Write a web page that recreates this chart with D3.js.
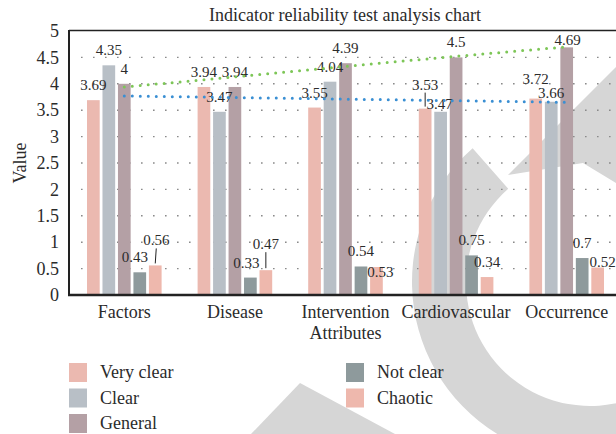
<!DOCTYPE html>
<html>
<head>
<meta charset="utf-8">
<script src="https://cdn.jsdelivr.net/npm/d3@7"></script>
<style>
  body { margin: 0; background: #fff; }
  svg text { font-family: "Liberation Serif", "DejaVu Serif", serif; fill: #2b2b2b; }
</style>
</head>
<body>
<script>
'use strict';

// chart data
const categories = ["Factors", "Disease", "Intervention Attributes", "Cardiovascular", "Occurrence"];
const seriesNames = ["Very clear", "Clear", "General", "Not clear", "Chaotic"];
const veryClear = [3.69, 3.94, 3.55, 3.53, 3.72];
const clear = [4.35, 3.47, 4.04, 3.47, 3.66];
const general = [4, 3.94, 4.39, 4.5, 4.69];
const notClear = [0.43, 0.33, 0.54, 0.75, 0.7];
const chaotic = [0.56, 0.47, 0.53, 0.34, 0.52];
// dotted trend lines
const trendGeneral = [3.94, 4.13, 4.33, 4.52, 4.70];
const trendVeryClear = [3.77, 3.74, 3.71, 3.68, 3.65];
const yTicks = [0, 0.5, 1, 1.5, 2, 2.5, 3, 3.5, 4, 4.5, 5];

const seriesColors = ["#ebb9b0", "#b8bfc6", "#b4a0a5", "#8e9a9c", "#eeb8ad"];
const seriesValues = [veryClear, clear, general, notClear, chaotic];

// hand nudges for the value labels [dx, dy], per category then series
const labelNudge = [
  [[0, 0], [0, 0], [0, 0], [-5, 0], [1, -10]],
  [[0, 0], [0, 0], [0, 0], [-4, 0], [0, -11]],
  [[0, 0], [0, 0], [0, 0], [0, 0], [4, 20]],
  [[0, -9], [-1, 7], [0, 0], [0, 0], [0, 0]],
  [[0, -5], [0, 6], [1, 8], [0, 0], [5, 9]]
];

const width = 616, height = 434;
const margin = { left: 69, top: 31, bottom: 295, right: 622 };
const serif = '"Liberation Serif", "DejaVu Serif", serif';

const svg = d3.select('body')
  .append('svg')
  .attr('width', width)
  .attr('height', height);

// faint watermark in the background
const wm = svg.append('g').attr('fill', '#d6d6d6');
wm.append('path')
  .attr('transform', 'translate(590,282)')
  .attr('d', d3.arc()
    .innerRadius(124)
    .outerRadius(178)
    .startAngle(Math.PI * 0.5)
    .endAngle(Math.PI * 2 - 0.72)());
wm.append('polygon').attr('points', '508,175 616,67 616,183 583,163');
wm.append('polygon').attr('points', '300,383 251,434 395,434');

// scales
const x0 = d3.scaleBand()
  .domain(categories)
  .range([margin.left, margin.right]);

const x1 = d3.scaleBand()
  .domain(seriesNames)
  .range([18, x0.bandwidth() - 18])
  .paddingInner(0.18);

const y = d3.scaleLinear()
  .domain([0, 5])
  .range([margin.bottom, margin.top]);

// dotted grid lines
svg.append('g')
  .selectAll('line')
  .data(yTicks.filter(t => t > 0 && t < 5))
  .enter()
  .append('line')
    .attr('x1', margin.left + 12)
    .attr('x2', width)
    .attr('y1', d => y(d))
    .attr('y2', d => y(d))
    .attr('stroke', '#8a8a8a')
    .attr('stroke-width', 1.4)
    .attr('stroke-dasharray', '1.6,10.4');

// y tick labels
const yAxis = d3.axisLeft(y)
  .tickValues(yTicks)
  .tickFormat(d => String(d))
  .tickSize(0)
  .tickPadding(10);
const gy = svg.append('g')
  .attr('transform', `translate(${margin.left},0)`)
  .call(yAxis)
  .attr('font-family', serif)
  .attr('font-size', 18);
gy.select('.domain').remove();
gy.selectAll('text')
  .attr('font-family', serif)
  .attr('fill', '#2b2b2b');

// bars
const groups = svg.append('g')
  .selectAll('g')
  .data(categories)
  .enter()
  .append('g')
    .attr('transform', d => `translate(${x0(d)},0)`);

groups.selectAll('rect')
  .data((c, ci) => seriesNames.map((s, si) => ({ s: s, si: si, ci: ci, v: seriesValues[si][ci] })))
  .enter()
  .append('rect')
    .attr('x', d => x1(d.s))
    .attr('y', d => y(d.v))
    .attr('width', x1.bandwidth())
    .attr('height', d => y(0) - y(d.v))
    .attr('fill', d => seriesColors[d.si]);

// trend lines
const cx = d => x0(d) + x0.bandwidth() / 2;
const trendLine = d3.line()
  .x((v, i) => cx(categories[i]))
  .y(v => y(v))
  .curve(d3.curveNatural);

[[trendVeryClear, '#3a8fd3'], [trendGeneral, '#7dc657']].forEach(([vals, col]) => {
  svg.append('path')
    .attr('d', trendLine(vals))
    .attr('fill', 'none')
    .attr('stroke', col)
    .attr('stroke-width', 3)
    .attr('stroke-linecap', 'round')
    .attr('stroke-dasharray', '0,8');
});

// value labels with leader lines where they were pushed up
groups.each(function(c, ci) {
  const g = d3.select(this);
  seriesNames.forEach((s, si) => {
    const v = seriesValues[si][ci];
    const bx = x1(s) + x1.bandwidth() / 2;
    const top = y(v);
    const [dx, dy] = labelNudge[ci][si];
    const ly = top - 15 + dy;
    if (dy <= -8) {
      g.append('line')
        .attr('x1', bx).attr('x2', bx + dx)
        .attr('y1', top - 2).attr('y2', ly + 8)
        .attr('stroke', '#222')
        .attr('stroke-width', 1);
    }
    g.append('text')
      .attr('x', bx + dx)
      .attr('y', ly + 5)
      .attr('text-anchor', 'middle')
      .style('font-size', '15px')
      .text(v);
  });
});

// frame: top border, left and bottom axis lines
svg.append('line')
  .attr('x1', margin.left).attr('x2', width)
  .attr('y1', margin.top - 0.5).attr('y2', margin.top - 0.5)
  .attr('stroke', '#222').attr('stroke-width', 1.5);
svg.append('line')
  .attr('x1', margin.left).attr('x2', margin.left)
  .attr('y1', margin.top - 1).attr('y2', margin.bottom + 1)
  .attr('stroke', '#222').attr('stroke-width', 2);
svg.append('line')
  .attr('x1', margin.left - 1).attr('x2', width)
  .attr('y1', margin.bottom).attr('y2', margin.bottom)
  .attr('stroke', '#222').attr('stroke-width', 2.5);

// category labels, wrapped onto one word per line
svg.append('g')
  .selectAll('text')
  .data(categories)
  .enter()
  .append('text')
    .attr('text-anchor', 'middle')
    .style('font-size', '18px')
    .each(function(d) {
      const t = d3.select(this);
      d.split(' ').forEach((w, i) => {
        t.append('tspan')
          .attr('x', cx(d))
          .attr('y', margin.bottom + 23 + i * 21)
          .text(w);
      });
    });

// title and y label
svg.append('text')
  .attr('x', 345)
  .attr('y', 21)
  .attr('text-anchor', 'middle')
  .style('font-size', '18px')
  .text('Indicator reliability test analysis chart');

svg.append('text')
  .attr('transform', 'translate(26,163)rotate(-90)')
  .attr('text-anchor', 'middle')
  .style('font-size', '18px')
  .text('Value');

// legend in two columns
const legend = svg.append('g')
  .selectAll('g')
  .data(seriesNames)
  .enter()
  .append('g')
    .attr('transform', (d, i) => {
      const col = i < 3 ? 0 : 1;
      const row = i < 3 ? i : i - 3;
      return `translate(${69 + col * 277},${372 + row * 25.5})`;
    });

legend.append('rect')
  .attr('x', 0)
  .attr('y', -9)
  .attr('width', 18)
  .attr('height', 19)
  .attr('fill', (d, i) => seriesColors[i]);

legend.append('text')
  .attr('x', 31)
  .attr('y', 6)
  .style('font-size', '18px')
  .text(d => d);
</script>
</body>
</html>
